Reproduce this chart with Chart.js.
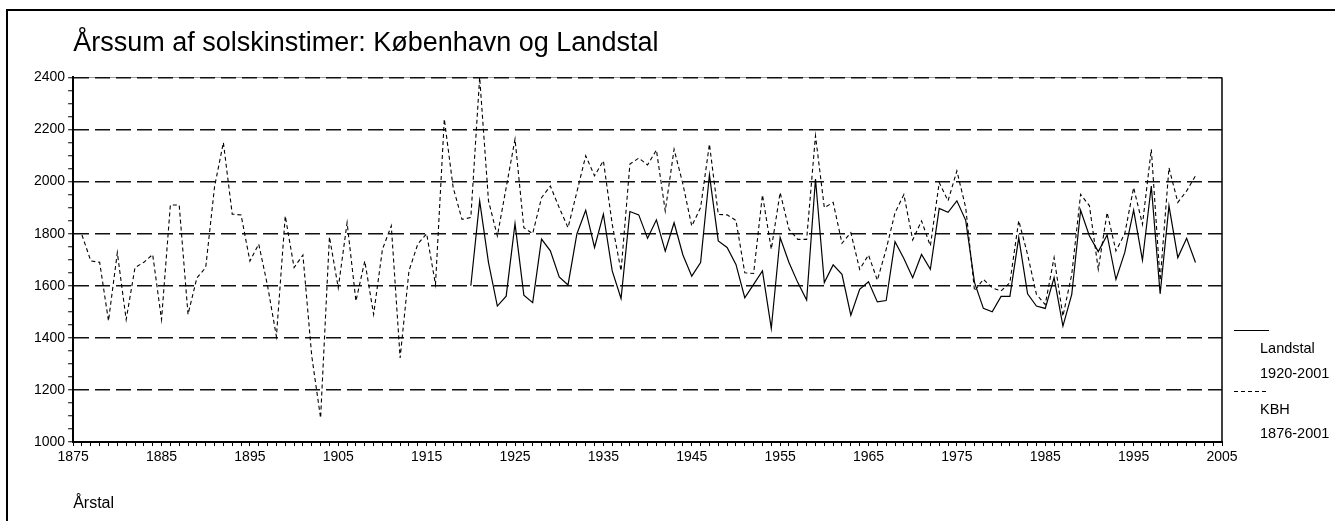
<!DOCTYPE html>
<html>
<head>
<meta charset="utf-8">
<script src="https://cdn.jsdelivr.net/npm/chart.js@4.4.0/dist/chart.umd.min.js"></script>
<style>
html, body { margin: 0; padding: 0; background: #fff; overflow: hidden; }
#frame { position: absolute; left: 6px; top: 9px; width: 1400px; height: 600px; border: 2px solid #000; }
#wrap { position: absolute; left: 0; top: 0; width: 1335px; height: 521px; }
</style>
</head>
<body>
<div id="frame"></div>
<div id="wrap"><canvas id="sunChart"></canvas></div>
<script>
// data (hours of sunshine per year)
var KBH_START = 1876;
var LAND_START = 1920;

var kbhValues = [
    1795, 1695, 1690, 1465, 1727, 1470, 1670, 1690, 1720, 1470, // 1876-1885
    1910, 1910, 1490, 1630, 1670, 1980, 2150, 1875, 1872, 1695, // 1886-1895
    1760, 1600, 1405, 1868, 1670, 1718, 1330, 1092, 1788, 1592, // 1896-1905
    1842, 1541, 1695, 1490, 1740, 1830, 1323, 1657, 1760, 1800, // 1906-1915
    1605, 2240, 1977, 1855, 1862, 2400, 1926, 1791, 1977, 2163, // 1916-1925
    1823, 1800, 1938, 1983, 1900, 1823, 1960, 2099, 2022, 2080, // 1926-1935
    1836, 1657, 2067, 2090, 2064, 2121, 1887, 2124, 1990, 1829, // 1936-1945
    1900, 2144, 1874, 1872, 1851, 1650, 1647, 1949, 1740, 1958, // 1946-1955
    1817, 1778, 1778, 2176, 1900, 1920, 1763, 1804, 1663, 1718, // 1956-1965
    1621, 1740, 1880, 1950, 1776, 1849, 1753, 1996, 1926, 2041, // 1966-1975
    1900, 1580, 1625, 1592, 1580, 1612, 1850, 1720, 1567, 1528, // 1976-1985
    1708, 1483, 1644, 1951, 1907, 1663, 1881, 1734, 1800, 1977, // 1986-1995
    1836, 2124, 1620, 2053, 1920, 1964, 2022                    // 1996-2002
];

var landValues = [
    1600, 1926, 1689, 1522, 1560, 1838, 1564, 1535, 1779, 1734, // 1920-1929
    1634, 1603, 1799, 1890, 1747, 1875, 1657, 1551, 1885, 1872, // 1930-1939
    1782, 1853, 1733, 1842, 1718, 1637, 1689, 2026, 1772, 1747, // 1940-1949
    1682, 1554, 1605, 1657, 1436, 1785, 1689, 1612, 1545, 2010, // 1950-1959
    1612, 1680, 1644, 1487, 1586, 1615, 1538, 1543, 1769, 1705, // 1960-1969
    1631, 1720, 1663, 1897, 1882, 1926, 1851, 1612, 1513, 1500, // 1970-1979
    1559, 1559, 1785, 1569, 1522, 1513, 1631, 1445, 1567, 1890, // 1980-1989
    1791, 1731, 1795, 1624, 1728, 1890, 1698, 1983, 1569, 1907, // 1990-1999
    1708, 1782, 1689                                            // 2000-2002
];

var seriesNames = ['Landstal', 'KBH'];
var seriesPeriods = ['1920-2001', '1876-2001'];
var xTickLabels = [1875, 1885, 1895, 1905, 1915, 1925, 1935, 1945, 1955, 1965, 1975, 1985, 1995, 2005];
var yTickLabels = [1000, 1200, 1400, 1600, 1800, 2000, 2200, 2400];

var FONT = '"Liberation Sans", Arial, sans-serif';

function toPoints(values, start) {
    return values.map(function (v, i) { return { x: start + i, y: v }; });
}

// right border, top edge and the little legend on the right
var framePlugin = {
    id: 'framePlugin',
    beforeDraw: function (chart) {
        var ctx = chart.ctx, a = chart.chartArea;
        ctx.save();
        ctx.strokeStyle = '#999';
        ctx.lineWidth = 1;
        ctx.beginPath();
        ctx.moveTo(a.left, Math.round(a.top) + 0.5);
        ctx.lineTo(a.right, Math.round(a.top) + 0.5);
        ctx.stroke();
        ctx.restore();
    },
    afterDraw: function (chart) {
        var ctx = chart.ctx, a = chart.chartArea;
        var r = Math.round(a.right), b = Math.round(a.bottom);
        ctx.save();
        ctx.strokeStyle = '#000';
        ctx.lineWidth = 1.5;
        ctx.beginPath();
        ctx.moveTo(r, a.top);
        ctx.lineTo(r, b);
        ctx.stroke();

        var sets = chart.data.datasets;
        var lineY = [b - 111.5, b - 50.5];
        var textY = [[b - 93, b - 68], [b - 32, b - 8]];
        ctx.font = '14.5px ' + FONT;
        ctx.fillStyle = '#000';
        ctx.textBaseline = 'middle';
        ctx.textAlign = 'left';
        for (var i = 0; i < sets.length; i++) {
            ctx.beginPath();
            ctx.setLineDash(sets[i].borderDash || []);
            ctx.lineWidth = 1;
            ctx.moveTo(r + 12, lineY[i]);
            ctx.lineTo(r + 47, lineY[i]);
            ctx.stroke();
            ctx.setLineDash([]);
            ctx.fillText(seriesNames[i], r + 38, textY[i][0]);
            ctx.fillText(seriesPeriods[i], r + 38, textY[i][1]);
        }
        ctx.restore();
    }
};

var ctx = document.getElementById('sunChart').getContext('2d');
var sunChart = new Chart(ctx, {
    type: 'line',
    data: {
        datasets: [{
            label: seriesNames[0],
            data: toPoints(landValues, LAND_START),
            borderColor: '#000',
            borderWidth: 1.2,
            pointRadius: 0,
            fill: false,
            tension: 0
        }, {
            label: seriesNames[1],
            data: toPoints(kbhValues, KBH_START),
            borderColor: '#000',
            borderWidth: 1.1,
            borderDash: [4, 3],
            pointRadius: 0,
            fill: false,
            tension: 0
        }]
    },
    options: {
        responsive: true,
        maintainAspectRatio: false,
        animation: false,
        layout: { padding: { left: 31, right: 113, top: 0, bottom: 0 } },
        plugins: {
            legend: { display: false },
            tooltip: { enabled: false },
            title: {
                display: true,
                text: 'Årssum af solskinstimer: København og Landstal',
                align: 'start',
                fullSize: false,
                color: '#000',
                font: { family: FONT, size: 27, weight: 'normal' },
                padding: { top: 27, bottom: 18 }
            }
        },
        scales: {
            x: {
                type: 'linear',
                min: 1875,
                max: 2005,
                ticks: {
                    stepSize: 1,
                    autoSkip: false,
                    maxRotation: 0,
                    color: '#000',
                    padding: 3,
                    font: { family: FONT, size: 14 },
                    callback: function (v) { return xTickLabels.indexOf(v) >= 0 ? String(v) : ''; }
                },
                grid: { drawOnChartArea: false, color: '#000', tickLength: 4, lineWidth: 1 },
                border: { color: '#000', width: 2 },
                title: {
                    display: true,
                    text: 'Årstal',
                    align: 'start',
                    color: '#000',
                    font: { family: FONT, size: 16 },
                    padding: { top: 25, bottom: 8 }
                }
            },
            y: {
                min: 1000,
                max: 2400,
                ticks: {
                    stepSize: 50,
                    autoSkip: false,
                    color: '#000',
                    padding: 3,
                    font: { family: FONT, size: 14 },
                    callback: function (v) { return yTickLabels.indexOf(v) >= 0 ? String(v) : ''; }
                },
                grid: {
                    color: function (c) {
                        var v = c.tick ? c.tick.value : 0;
                        return (v > 1000 && v % 200 === 0) ? '#111' : 'rgba(0,0,0,0)';
                    },
                    tickColor: '#000',
                    tickLength: 5,
                    tickWidth: 1,
                    lineWidth: 1.5
                },
                border: { color: '#000', width: 2, dash: [15, 6] }
            }
        }
    },
    plugins: [framePlugin]
});
</script>
</body>
</html>
